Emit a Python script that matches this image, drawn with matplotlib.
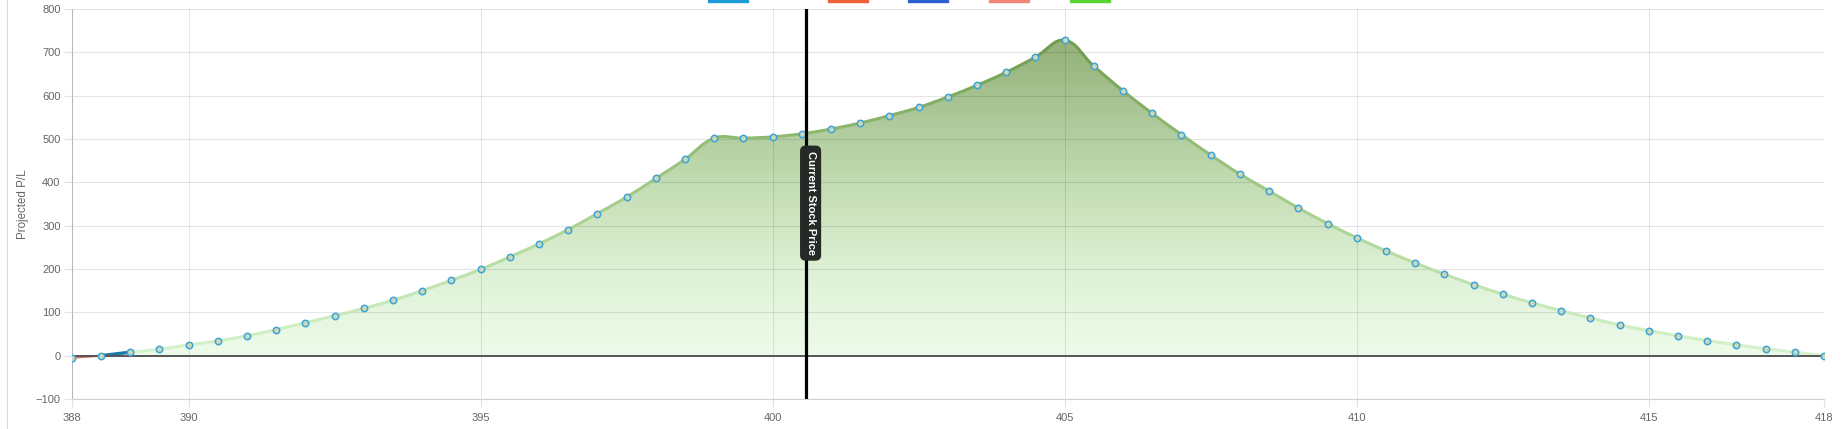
import numpy as np
import matplotlib.pyplot as plt
from matplotlib.path import Path
from matplotlib.patches import PathPatch, Rectangle
from matplotlib.colors import LinearSegmentedColormap
from matplotlib.lines import Line2D

plt.rcParams['font.family'] = ['Liberation Sans', 'DejaVu Sans']

# strike prices (x) and projected P/L (y)
prices = [388 + 0.5 * i for i in range(61)]
pl = [-5, 0, 8, 15, 25, 34, 46, 60, 76, 92,
      109, 128, 150, 174, 199, 228, 258, 291, 328, 366,
      409, 453, 502, 502, 505, 512, 523, 537, 554, 573,
      597, 624, 654, 689, 728, 668, 611, 559, 510, 463,
      419, 380, 341, 305, 272, 242, 214, 188, 164, 142,
      122, 104, 87, 71, 58, 46, 35, 25, 16, 8, 0]
current_price = 400.58
xticks = [388, 390, 395, 400, 405, 410, 415, 418]
yticks = [-100, 0, 100, 200, 300, 400, 500, 600, 700, 800]
legend_colors = ['#1a9ad6', '#f0603a', '#2f5fcf', '#ef8572', '#55d632']

W, H = 1844, 429
fig = plt.figure(figsize=(W / 100, H / 100), dpi=100)
ax = fig.add_axes([71.7 / W, 1 - 399 / H, (1824 - 71.7) / W, 390 / H])
ax.set_xlim(388, 418)
ax.set_ylim(-100, 800)

# chart.js style bezier control points (tension 0.4, computed in pixel space)
sx, sy = (1824 - 71.7) / 30, 390 / 900
def ctrl_points(xs, ys, t=0.4):
    n = len(xs)
    prev_c, next_c = [], []
    for i in range(n):
        x0, y0 = (xs[i - 1], ys[i - 1]) if i > 0 else (xs[i], ys[i])
        x2, y2 = (xs[i + 1], ys[i + 1]) if i < n - 1 else (xs[i], ys[i])
        x1, y1 = xs[i], ys[i]
        d01 = np.hypot((x1 - x0) * sx, (y1 - y0) * sy)
        d12 = np.hypot((x2 - x1) * sx, (y2 - y1) * sy)
        tot = d01 + d12 if d01 + d12 > 0 else 1
        fa, fb = t * d01 / tot, t * d12 / tot
        prev_c.append((x1 - fa * (x2 - x0), y1 - fa * (y2 - y0)))
        next_c.append((x1 + fb * (x2 - x0), y1 + fb * (y2 - y0)))
    return prev_c, next_c

gx, gy = prices[2:], pl[2:]
pc, nc = ctrl_points(gx, gy)
verts = [(gx[0], gy[0])]
codes = [Path.MOVETO]
for i in range(len(gx) - 1):
    verts += [nc[i], pc[i + 1], (gx[i + 1], gy[i + 1])]
    codes += [Path.CURVE4] * 3
fverts = verts + [(gx[-1], 0), (gx[0], 0), (gx[0], gy[0])]
fcodes = codes + [Path.LINETO, Path.LINETO, Path.CLOSEPOLY]
fill_patch = PathPatch(Path(fverts, fcodes), facecolor='none', edgecolor='none')
ax.add_patch(fill_patch)

fill_cmap = LinearSegmentedColormap.from_list(
    'f', ['#eefbea', '#dff2d8', '#c8e0b8', '#adc99a', '#93b178'])
grad = np.linspace(0, 1, 256).reshape(-1, 1)
img = ax.imshow(grad, extent=[388, 418, 0, max(pl)], aspect='auto', origin='lower',
                cmap=fill_cmap, zorder=1, interpolation='bilinear')
img.set_clip_path(fill_patch)

line_cmap = LinearSegmentedColormap.from_list('l', ['#d6f3cf', '#b4dba0', '#92bd74', '#6e9a4c'])
for i in range(len(gx) - 1):
    seg = Path([(gx[i], gy[i]), nc[i], pc[i + 1], (gx[i + 1], gy[i + 1])],
               [Path.MOVETO, Path.CURVE4, Path.CURVE4, Path.CURVE4])
    c = line_cmap((gy[i] + gy[i + 1]) / 2 / max(pl))
    ax.add_patch(PathPatch(seg, facecolor='none', edgecolor=c, lw=2.2,
                           capstyle='round', zorder=3))

# red (loss) and blue segments at the left
ax.fill_between(prices[:2], pl[:2], 0, color='#f4c8c2', alpha=0.8, zorder=2, lw=0)
ax.plot(prices[:2], pl[:2], color='#e07565', lw=1.5, zorder=3)
ax.plot(prices[1:3], pl[1:3], color='#1a78aa', lw=2.4, zorder=3, solid_capstyle='round')

ax.axhline(0, color='#555555', lw=1.4, zorder=3.5)

ax.plot(prices, pl, 'o', ms=4.6, mfc='#cad9b9', mec='#3fa3d6', mew=1.1, zorder=4)

# current stock price marker
ax.axvline(current_price, color='black', lw=2.3, zorder=5)
ax.text(current_price + 0.07, 352, 'Current Stock Price', rotation=-90, color='white',
        fontsize=8, fontweight='bold', ha='center', va='center', zorder=6,
        bbox=dict(boxstyle='round,pad=0.5,rounding_size=0.5', fc='#262a26', ec='none'))

ax.set_xticks(xticks)
ax.set_yticks(yticks)
ax.set_axisbelow(False)
ax.grid(True, color='#000000', alpha=0.1, lw=0.8)
for s in ['top', 'right']:
    ax.spines[s].set_visible(False)
for s in ['left', 'bottom']:
    ax.spines[s].set_color('#cfcfcf')
    ax.spines[s].set_linewidth(0.8)
ax.tick_params(colors='#e2e2e2', length=6, width=0.8, labelcolor='#666666',
               labelsize=8, pad=2)
ax.tick_params(axis='x', pad=4)
ax.set_ylabel('Projected P/L', color='#666666', fontsize=8.3, labelpad=5)

# top legend boxes (cut off at the figure edge)
lx = [708, 828, 908, 989, 1070]
for x0, c in zip(lx, legend_colors):
    fig.add_artist(Rectangle((x0 / W, 1 - 1.5 / H), 40 / W, 1.5 / H, color=c,
                             transform=fig.transFigure))
fig.add_artist(Line2D([7 / W, 7 / W], [0, 1], color='#dddddd', lw=0.8,
                      transform=fig.transFigure))

fig.savefig('out.png', dpi=100)
